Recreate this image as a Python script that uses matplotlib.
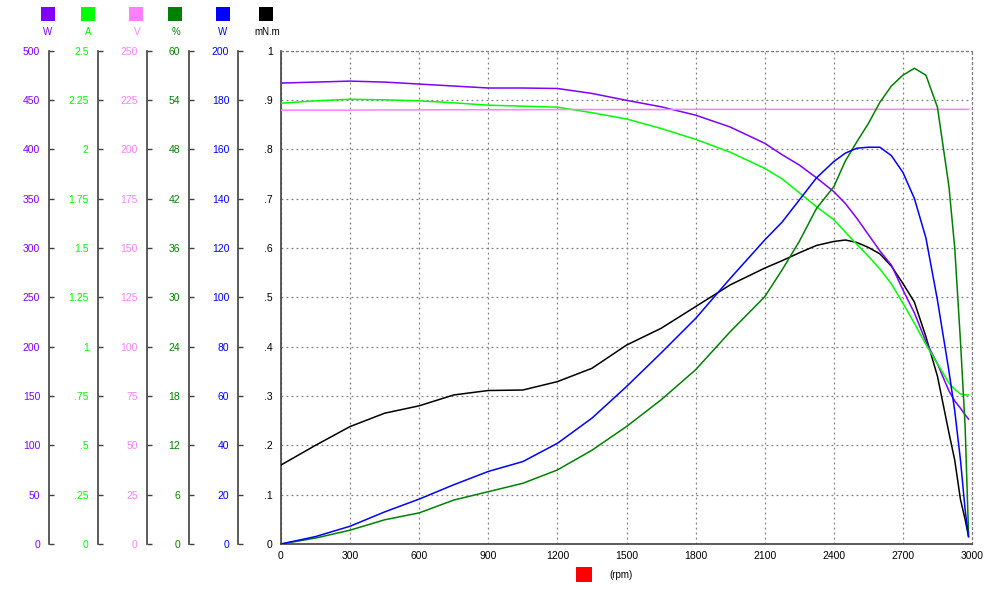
import matplotlib
matplotlib.use("Agg")
import matplotlib.pyplot as plt
from matplotlib.patches import Rectangle

plt.rcParams['font.family'] = ['Liberation Sans', 'DejaVu Sans']

# ---------------- data ----------------
rpm = [0, 150, 300, 450, 600, 750, 900, 1050, 1200, 1350, 1500, 1650, 1800, 1950,
       2100, 2175, 2250, 2325, 2400, 2450, 2500, 2550, 2600, 2650, 2700, 2750, 2800,
       2850, 2900, 2925, 2950, 2970, 2985]

power_in_w = [467, 468, 469, 468, 466, 464, 462, 462, 461.5, 456.5, 449.5, 443, 434.5,
              422.5, 406, 394.5, 384, 371, 357, 345, 330, 313.5, 297, 282.5, 257.5, 234,
              205, 182.5, 155, 145, 137.5, 131, 126.5]

current_a = [2.233, 2.245, 2.253, 2.25, 2.245, 2.235, 2.223, 2.218, 2.213, 2.185, 2.153,
             2.105, 2.05, 1.985, 1.903, 1.85, 1.78, 1.708, 1.643, 1.58, 1.518, 1.458,
             1.393, 1.318, 1.22, 1.118, 1.01, 0.913, 0.815, 0.783, 0.76, 0.755, 0.755]

voltage_v = [219.8, 219.8, 219.8, 219.9, 219.9, 220.0, 220.0, 220.0, 220.1, 220.1, 220.1,
             220.1, 220.2, 220.2, 220.2, 220.2, 220.2, 220.2, 220.2, 220.2, 220.2, 220.2,
             220.2, 220.2, 220.2, 220.2, 220.2, 220.2, 220.2, 220.2, 220.2, 220.2, 220.2]

efficiency_pct = [0, 0.72, 1.68, 2.94, 3.78, 5.34, 6.36, 7.38, 9.0, 11.4, 14.28, 17.52,
                  21.18, 25.8, 30.06, 33.3, 36.78, 40.8, 43.44, 46.56, 48.9, 51.12, 53.7,
                  55.68, 57.0, 57.84, 57.0, 53.1, 43.44, 36.0, 24.6, 14.4, 1.2]

power_out_w = [0, 3, 7.2, 13, 18.2, 24, 29.4, 33.4, 40.8, 51, 63.8, 77.4, 91.4, 107.6,
               123.2, 130.4, 139.4, 148.4, 155, 158.4, 160.4, 160.8, 160.8, 157.4, 150.6,
               140, 124, 98.8, 70, 54, 34, 14, 3]

torque_mnm = [0.160, 0.200, 0.238, 0.265, 0.280, 0.302, 0.311, 0.312, 0.329, 0.356,
              0.403, 0.437, 0.481, 0.525, 0.559, 0.574, 0.590, 0.605, 0.613, 0.616,
              0.611, 0.601, 0.588, 0.563, 0.528, 0.490, 0.420, 0.340, 0.225, 0.170,
              0.090, 0.050, 0.015]

x_ticks = [0, 300, 600, 900, 1200, 1500, 1800, 2100, 2400, 2700, 3000]

units = ['W', 'A', 'V', '%', 'W', 'mN.m']
colors = ['#7f00ff', '#00ff00', '#ff80ff', '#008000', '#0000ff', '#000000']

ticks_w_in = [0, 50, 100, 150, 200, 250, 300, 350, 400, 450, 500]
labels_w_in = ['0', '50', '100', '150', '200', '250', '300', '350', '400', '450', '500']
ticks_a = [0, 0.25, 0.5, 0.75, 1, 1.25, 1.5, 1.75, 2, 2.25, 2.5]
labels_a = ['0', '.25', '.5', '.75', '1', '1.25', '1.5', '1.75', '2', '2.25', '2.5']
ticks_v = [0, 25, 50, 75, 100, 125, 150, 175, 200, 225, 250]
labels_v = ['0', '25', '50', '75', '100', '125', '150', '175', '200', '225', '250']
ticks_pct = [0, 6, 12, 18, 24, 30, 36, 42, 48, 54, 60]
labels_pct = ['0', '6', '12', '18', '24', '30', '36', '42', '48', '54', '60']
ticks_w_out = [0, 20, 40, 60, 80, 100, 120, 140, 160, 180, 200]
labels_w_out = ['0', '20', '40', '60', '80', '100', '120', '140', '160', '180', '200']
ticks_t = [0, 0.1, 0.2, 0.3, 0.4, 0.5, 0.6, 0.7, 0.8, 0.9, 1.0]
labels_t = ['0', '.1', '.2', '.3', '.4', '.5', '.6', '.7', '.8', '.9', '1']

# ---------------- figure ----------------
fig = plt.figure(figsize=(10, 5.9), dpi=100)
fig.patch.set_facecolor('white')
ax = fig.add_axes([0.281, 0.078, 0.691, 0.8364])
FS = 7.5
SPINE = '#404040'
GRID = '#808080'

ax.set_xlim(0, 3000)
ax.set_ylim(0, 1)
ax.set_xticks(x_ticks)
ax.set_xticklabels([str(t) for t in x_ticks], fontsize=FS)
ax.set_yticks(ticks_t)
ax.set_yticklabels(labels_t, fontsize=FS)
ax.tick_params(axis='both', length=0, pad=5)
ax.tick_params(axis='y', pad=6)
ax.grid(True, color=GRID, linestyle=(0, (1.5, 2.5)), linewidth=0.9)
for s in ['top', 'right']:
    ax.spines[s].set_color(GRID)
    ax.spines[s].set_linestyle((0, (1.5, 2.5)))
    ax.spines[s].set_linewidth(0.9)
for s in ['left', 'bottom']:
    ax.spines[s].set_color(SPINE)
    ax.spines[s].set_linewidth(1.2)

series = [
    (power_in_w, 500, ticks_w_in, labels_w_in, -0.3353),
    (current_a, 2.5, ticks_a, labels_a, -0.2653),
    (voltage_v, 250, ticks_v, labels_v, -0.1944),
    (efficiency_pct, 60, ticks_pct, labels_pct, -0.1327),
    (power_out_w, 200, ticks_w_out, labels_w_out, -0.0618),
]

for i, (vals, top, tks, lbls, pos) in enumerate(series):
    a = ax.twinx()
    a.set_ylim(0, top)
    a.yaxis.set_ticks_position('left')
    a.yaxis.set_label_position('left')
    for s in ['top', 'right', 'bottom']:
        a.spines[s].set_visible(False)
    a.spines['left'].set_visible(True)
    a.spines['left'].set_position(('axes', pos))
    a.spines['left'].set_color(SPINE)
    a.spines['left'].set_linewidth(1.2)
    a.set_yticks(tks)
    a.set_yticklabels(lbls, fontsize=FS, color=colors[i])
    a.tick_params(axis='y', direction='in', length=3.5, width=1.0, color=SPINE, pad=6.5)
    a.plot(rpm, vals, color=colors[i], linewidth=1.1)

ax.plot(rpm, torque_mnm, color=colors[5], linewidth=1.1, zorder=5)

# legend squares with unit labels
sq_x = [41, 81, 129, 168, 216, 259]
lab_x = [48, 88, 137, 176, 223, 267]
for i in range(6):
    fig.patches.append(Rectangle((sq_x[i] / 1000, (590 - 21) / 590), 14 / 1000, 14 / 590,
                                 transform=fig.transFigure, facecolor=colors[i],
                                 edgecolor='none'))
    fig.text(lab_x[i] / 1000, (590 - 32) / 590, units[i], fontsize=FS - 0.5,
             color=colors[i] if i != 5 else '#000000', ha='center', va='center')

# x-axis legend
fig.patches.append(Rectangle((576 / 1000, (590 - 582) / 590), 16 / 1000, 15 / 590,
                             transform=fig.transFigure, facecolor='#ff0000',
                             edgecolor='none'))
fig.text(609 / 1000, (590 - 575) / 590, '(rpm)', fontsize=FS - 0.5, ha='left',
         va='center', color='#000000')

fig.savefig('out.png', dpi=100)
